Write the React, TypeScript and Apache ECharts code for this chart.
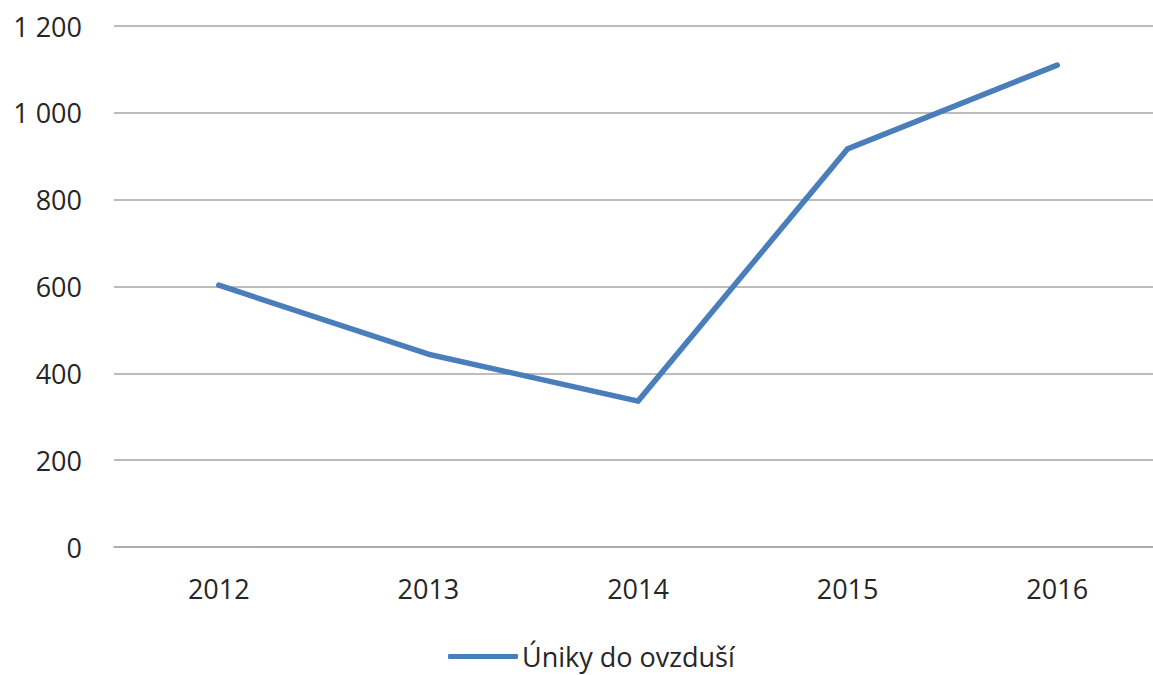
import React, { useEffect, useRef } from "react";
import * as echarts from "echarts";

const years = ["2012", "2013", "2014", "2015", "2016"];
const emissions = [603, 444, 336, 917, 1110];
const seriesName = "Úniky do ovzduší";

export default function App() {
  const ref = useRef<HTMLDivElement>(null);
  useEffect(() => {
    document.body.style.margin = "0";
    document.body.style.overflow = "hidden";
    const chart = echarts.init(ref.current!, null, { renderer: "svg" });
    const font = "Open Sans";
    chart.setOption({
      animation: false,
      backgroundColor: "#ffffff",
      grid: { left: 114, right: 0, top: 26, bottom: 128, containLabel: false },
      xAxis: {
        type: "category",
        data: years,
        boundaryGap: true,
        axisLine: { lineStyle: { color: "#a6a6a6", width: 1.5 } },
        axisTick: { show: false },
        axisLabel: { color: "#262626", fontSize: 27, fontFamily: font, margin: 28 },
      },
      yAxis: {
        type: "value",
        min: 0,
        max: 1200,
        interval: 200,
        axisLine: { show: false },
        axisTick: { show: false },
        splitLine: { lineStyle: { color: "#a6a6a6", width: 1.5 } },
        axisLabel: {
          color: "#262626",
          fontSize: 27,
          fontFamily: font,
          margin: 32,
          formatter: (v: number) => String(v).replace(/\B(?=(\d{3})+(?!\d))/g, " "),
        },
      },
      legend: {
        show: true,
        left: 448,
        top: 643,
        icon: "roundRect",
        itemWidth: 70,
        itemHeight: 5,
        itemGap: 10,
        padding: 0,
        textStyle: { color: "#262626", fontSize: 27, fontFamily: font, padding: [0, 0, 0, -1] },
        data: [seriesName],
      },
      series: [
        {
          name: seriesName,
          type: "line",
          data: emissions,
          showSymbol: false,
          symbol: "none",
          lineStyle: { color: "#4a7ebb", width: 5.5, cap: "round", join: "round" },
          itemStyle: { color: "#4a7ebb" },
        },
      ],
    });
    return () => chart.dispose();
  }, []);
  return (
    <div style={{ width: 1153, height: 675, overflow: "hidden" }}>
      <div ref={ref} style={{ width: 1162, height: 675 }} />
    </div>
  );
}
